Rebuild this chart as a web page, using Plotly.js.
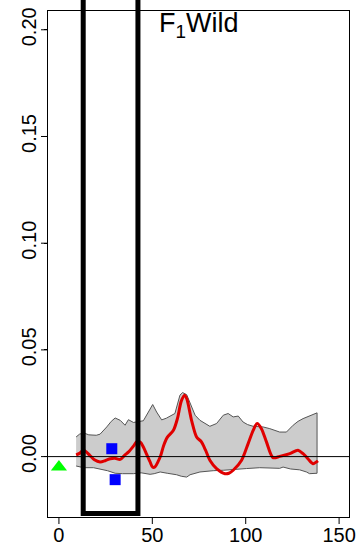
<!DOCTYPE html>
<html>
<head>
<meta charset="utf-8">
<script src="https://cdn.plot.ly/plotly-3.0.1.min.js"></script>
<style>html,body{margin:0;padding:0;background:#fff;}#chart{width:359px;height:544px;}</style>
</head>
<body>
<div id="chart"></div>
<script>
// Confidence band (upper and lower edges)
const upperX = [9.2, 11, 13.2, 16, 20, 22, 25.6, 28, 30.1, 32.8, 35.4, 37.2, 39.9, 42, 45.2, 47.9, 50.2, 52.3, 55, 57.5, 59.5, 62.1, 64.8, 66.2, 68.4, 70.2, 72.9, 75.5, 78, 80.8, 84.4, 88, 90.6, 93.3, 96, 98.6, 101, 104, 109.3, 112.9, 118.2, 121.8, 125.4, 128, 130.7, 134.3, 137, 138.2];
const upperY = [0.0092, 0.0105, 0.0111, 0.0102, 0.0100, 0.0105, 0.0139, 0.0165, 0.0181, 0.0170, 0.0147, 0.0173, 0.0160, 0.0162, 0.0168, 0.0209, 0.0244, 0.0209, 0.0172, 0.0180, 0.0188, 0.0202, 0.0288, 0.0300, 0.0290, 0.0249, 0.0194, 0.0170, 0.0155, 0.0142, 0.0155, 0.0194, 0.0202, 0.0186, 0.0190, 0.0162, 0.0150, 0.0142, 0.0139, 0.0131, 0.0115, 0.0115, 0.0147, 0.0165, 0.0178, 0.0190, 0.0200, 0.0205];
const lowerX = [9.2, 13.2, 18.5, 22, 26, 30.1, 34, 39.9, 44, 48.8, 51, 54.2, 58, 63, 65.5, 68.4, 70.2, 75.5, 82.6, 88, 93.3, 100.4, 107.5, 112, 118.2, 120, 124, 128.9, 132.5, 134.2, 138.2];
const lowerY = [-0.0044, -0.0052, -0.0052, -0.0058, -0.0066, -0.0078, -0.0080, -0.0080, -0.0076, -0.0083, -0.0080, -0.0072, -0.0078, -0.0085, -0.0092, -0.0096, -0.0085, -0.0072, -0.0066, -0.0064, -0.0062, -0.0056, -0.0052, -0.0052, -0.0055, -0.0049, -0.0058, -0.0062, -0.0072, -0.0080, -0.0078];

// Red estimate line
const lineX = [9.2, 11, 13.2, 16.5, 19, 22, 25, 27.5, 30, 32.8, 35, 37.3, 40, 41.7, 43.5, 45.2, 47, 48.8, 50.2, 51.5, 53, 54.5, 56, 58, 61.3, 63.5, 65.5, 67.3, 68.5, 71, 73.7, 76.3, 78.5, 80.8, 84.4, 88.9, 91, 93.3, 97.8, 101.3, 104, 106.1, 108.4, 111.1, 114.6, 118.2, 123.6, 128, 130.7, 133.3, 136, 138.7];
const lineY = [0.0008, 0.0015, 0.0030, 0.0006, -0.0015, -0.0025, -0.0018, -0.0010, -0.0008, -0.0013, 0.0005, 0.0022, 0.0050, 0.0070, 0.0068, 0.0045, 0.0010, -0.0025, -0.0050, -0.0048, -0.0025, 0.0005, 0.0050, 0.0090, 0.0123, 0.0180, 0.0260, 0.0288, 0.0270, 0.0170, 0.0092, 0.0069, 0.0030, -0.0017, -0.0056, -0.0080, -0.0078, -0.0064, -0.0017, 0.0061, 0.0123, 0.0155, 0.0131, 0.0069, -0.0005, 0.0001, 0.0014, 0.0030, 0.0014, -0.0010, -0.0033, -0.0020];

// Point markers
const triX = [0];
const triY = [-0.0049];
const sqX = [28.3, 30.1];
const sqY = [0.0037, -0.0108];

// Highlighted window
const boxX = [13, 42.3];

// Axis ticks
const xTicks = [0, 50, 100, 150];
const yTicks = [0, 0.05, 0.10, 0.15, 0.20];
const yTickText = ["0.00", "0.05", "0.10", "0.15", "0.20"];

const bandX = upperX.concat(lowerX.slice().reverse());
const bandY = upperY.concat(lowerY.slice().reverse());

const FONT = "Liberation Sans, Arial, sans-serif";
const PLOT_H = 544 - 11 - 27;
const PLOT_W = 359 - 48 - 10;
const TICK = 7;

const traces = [
  {x: bandX, y: bandY, mode: "lines", fill: "toself", fillcolor: "#cccccc",
   line: {color: "#555555", width: 1}, hoverinfo: "skip", showlegend: false},
  {x: lineX, y: lineY, mode: "lines", line: {color: "#e00000", width: 3, shape: "spline", smoothing: 0.8},
   showlegend: false},
  {x: triX, y: triY, mode: "markers", marker: {symbol: "triangle-up", size: 14, color: "#00ff00"}, showlegend: false},
  {x: sqX, y: sqY, mode: "markers", marker: {symbol: "square", size: 11, color: "#0000ff"}, showlegend: false}
];

// Tick marks drawn as short lines, so the labels can sit closer to the axis
const tickShapes = [];
xTicks.forEach(v => tickShapes.push({type: "line", xref: "x", yref: "paper", x0: v, x1: v,
  y0: 0, y1: -TICK / PLOT_H, line: {color: "#000", width: 1}}));
yTicks.forEach(v => tickShapes.push({type: "line", xref: "paper", yref: "y", x0: 0, x1: -TICK / PLOT_W,
  y0: v, y1: v, line: {color: "#000", width: 1}}));

const layout = {
  width: 359, height: 544,
  margin: {l: 48, r: 10, t: 11, b: 27, pad: 0},
  paper_bgcolor: "#ffffff", plot_bgcolor: "#ffffff",
  font: {family: FONT, color: "#000000"},
  showlegend: false,
  xaxis: {
    range: [-5.85, 155.3], tickvals: xTicks, ticktext: xTicks.map(String),
    ticks: "", showgrid: false, zeroline: false, showline: true, mirror: true,
    linecolor: "#000", linewidth: 1, tickfont: {size: 20, family: FONT, color: "#000"}
  },
  yaxis: {
    range: [-0.0283, 0.2088], tickvals: yTicks, ticktext: yTickText, tickangle: -90,
    ticks: "outside", ticklen: 3, tickwidth: 1, tickcolor: "#000",
    showgrid: false, zeroline: false, showline: true, mirror: true,
    linecolor: "#000", linewidth: 1, tickfont: {size: 20, family: FONT, color: "#000"}
  },
  shapes: tickShapes.concat([
    {type: "line", xref: "paper", yref: "y", x0: 0, x1: 1, y0: 0, y1: 0,
     line: {color: "#000", width: 1}, layer: "above"},
    {type: "rect", xref: "x", yref: "paper", x0: boxX[0], x1: boxX[1], y0: 0.007, y1: 1.1,
     line: {color: "#000", width: 5}, fillcolor: "rgba(0,0,0,0)", layer: "above"}
  ]),
  annotations: [
    {text: "F<sub>1</sub>Wild", xref: "paper", yref: "paper", x: 0.5, y: 1, xanchor: "center", yanchor: "top",
     yshift: 5, showarrow: false, font: {size: 27, family: FONT, color: "#000"}}
  ]
};

Plotly.newPlot("chart", traces, layout, {displayModeBar: false, staticPlot: true});
</script>
</body>
</html>
